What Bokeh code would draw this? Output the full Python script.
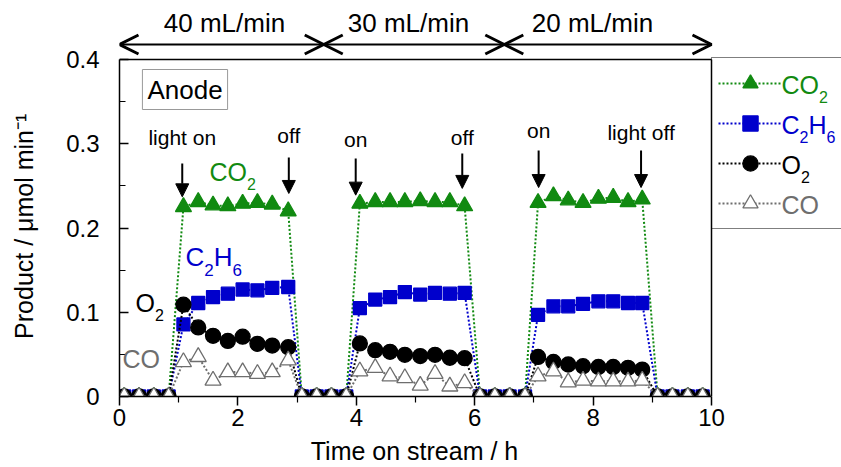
from bokeh.plotting import figure
from bokeh.models import (Range1d, FixedTicker, PrintfTickFormatter, Legend, LegendItem,
                          Label, Arrow, OpenHead, NormalHead, ColumnDataSource)
from bokeh.embed import file_html
from bokeh.resources import INLINE

# ---------------- data ----------------
time_h = [0.08, 0.33, 0.58, 0.83,
          1.08, 1.33, 1.58, 1.83, 2.08, 2.33, 2.58, 2.85,
          3.08, 3.33, 3.58, 3.83,
          4.06, 4.32, 4.57, 4.82, 5.08, 5.33, 5.58, 5.83,
          6.09, 6.34, 6.59, 6.85,
          7.07, 7.33, 7.58, 7.83, 8.09, 8.34, 8.59, 8.83,
          9.09, 9.34, 9.60, 9.85]
co2 = [0, 0, 0, 0,
       0.225, 0.231, 0.227, 0.226, 0.229, 0.230, 0.228, 0.220,
       0, 0, 0, 0,
       0.229, 0.231, 0.231, 0.231, 0.232, 0.231, 0.231, 0.226,
       0, 0, 0, 0,
       0.230, 0.238, 0.233, 0.230, 0.235, 0.236, 0.231, 0.234,
       0, 0, 0, 0]
c2h6 = [0, 0, 0, 0,
        0.0855, 0.111, 0.118, 0.122, 0.127, 0.126, 0.129, 0.130,
        0, 0, 0, 0,
        0.105, 0.115, 0.118, 0.124, 0.121, 0.123, 0.122, 0.123,
        0, 0, 0, 0,
        0.097, 0.107, 0.107, 0.110, 0.113, 0.113, 0.111, 0.111,
        0, 0, 0, 0]
o2 = [0, 0, 0, 0,
      0.109, 0.082, 0.072, 0.066, 0.071, 0.0625, 0.0605, 0.0585,
      0, 0, 0, 0,
      0.063, 0.055, 0.053, 0.0495, 0.048, 0.0495, 0.046, 0.0455,
      0, 0, 0, 0,
      0.047, 0.041, 0.038, 0.036, 0.035, 0.035, 0.034, 0.032,
      0, 0, 0, 0]
co = [0, 0, 0, 0,
      0.041, 0.047, 0.019, 0.029, 0.029, 0.027, 0.029, 0.043,
      0, 0, 0, 0,
      0.030, 0.034, 0.024, 0.022, 0.013, 0.027, 0.012, 0.016,
      0, 0, 0, 0,
      0.024, 0.030, 0.017, 0.019, 0.018, 0.018, 0.018, 0.019,
      0, 0, 0, 0]

x_ticks = [0, 2, 4, 6, 8, 10]
x_minor = [1, 3, 5, 7, 9]
y_ticks = [0, 0.1, 0.2, 0.3, 0.4]
y_minor = [0.05, 0.15, 0.25, 0.35]

x_title = "Time on stream / h"
y_title = "Product / \u03bcmol min\u207b\u00b9"

flow_labels = ["40 mL/min", "30 mL/min", "20 mL/min"]
flow_bounds = [0.0, 3.45, 6.5, 10.0]

light_text = ["light on", "off", "on", "off", "on", "light off"]
light_x = [1.06, 2.86, 3.99, 5.79, 7.08, 8.81]
light_top = [0.2766, 0.2837, 0.2825, 0.2884, 0.292, 0.292]
light_tip = [0.237, 0.241, 0.239, 0.247, 0.248, 0.248]

series_names = [[("CO", False), ("2", True)],
                [("C", False), ("2", True), ("H", False), ("6", True)],
                [("O", False), ("2", True)],
                [("CO", False)]]
series_colors = ["#118a11", "#0000cc", "#000000", "#6e6e6e"]

# ---------------- layout constants (pixels) ----------------
WIDTH, HEIGHT = 841, 467
L, B = 119, 71                 # left / bottom panels
AX_R, AX_T = 711, 59           # pixel position of x=10 and y=0.4
X0, X1, Y0, Y1 = 0, 10, 0, 0.4
FW, FH = WIDTH - L, HEIGHT - B           # data frame (incl. legend / top strip)
XPX = (AX_R - L) / (X1 - X0)
YPX = (FH - AX_T) / (Y1 - Y0)
FONT = "Liberation Sans"
NBSP_W = 0.278 * 25            # width of a no-break space at the title size


def px_x(px):
    return X0 + (px - L) / XPX


def px_y(py):
    return Y0 + (FH - py) / YPX


p = figure(width=WIDTH, height=HEIGHT, output_backend="svg", toolbar_location=None,
           x_range=Range1d(X0, px_x(WIDTH)), y_range=Range1d(Y0, px_y(0)),
           min_border_left=L, min_border_right=0, min_border_top=0, min_border_bottom=B)
p.grid.visible = False
p.outline_line_color = None
p.background_fill_color = "white"
p.border_fill_color = "white"

# axes (lines limited to the plotting box; titles centred on it with padding)
p.xaxis.ticker = FixedTicker(ticks=x_ticks, minor_ticks=x_minor)
p.yaxis.ticker = FixedTicker(ticks=y_ticks, minor_ticks=y_minor)
p.xaxis.bounds = (X0, X1)
p.yaxis.bounds = (Y0, Y1)
p.yaxis.formatter = PrintfTickFormatter(format="%g")
pad_x = round((FW - (AX_R - L)) / NBSP_W)
pad_y = round((FH - (FH - AX_T)) / NBSP_W)
p.xaxis.axis_label = x_title + "\u00a0" * pad_x
p.yaxis.axis_label = y_title + "\u00a0" * pad_y
for ax in (p.xaxis, p.yaxis):
    ax.axis_line_width = 1.5
    ax.major_tick_line_width = 1.5
    ax.minor_tick_line_width = 1.2
    ax.major_label_text_font = FONT
    ax.major_label_text_font_size = "24px"
    ax.major_label_text_color = "black"
    ax.axis_label_text_font = FONT
    ax.axis_label_text_font_size = "25px"
    ax.axis_label_text_font_style = "normal"
    ax.axis_label_text_color = "black"
p.xaxis.major_tick_in = 0
p.xaxis.major_tick_out = 9
p.xaxis.minor_tick_in = 0
p.xaxis.minor_tick_out = 6
p.xaxis.major_label_standoff = 3
p.xaxis.axis_label_standoff = 8
p.yaxis.major_tick_in = 9
p.yaxis.major_tick_out = 0
p.yaxis.minor_tick_in = 6
p.yaxis.minor_tick_out = 0
p.yaxis.major_label_standoff = 20
p.yaxis.axis_label_standoff = 25

# series
src = ColumnDataSource(dict(t=time_h, co2=co2, c2h6=c2h6, o2=o2, co=co))
items = []
specs = [("co2", "triangle", 16, series_colors[0], series_colors[0]),
         ("c2h6", "square", 13, series_colors[1], series_colors[1]),
         ("o2", "circle", 15, series_colors[2], series_colors[2]),
         ("co", "triangle", 16, "white", series_colors[3])]
for (col, marker, size, fill, edge), lc in zip(specs, series_colors):
    ln = p.line("t", col, source=src, line_color=lc, line_width=2, line_dash="2 2")
    sc = p.scatter("t", col, source=src, marker=marker, size=size,
                   fill_color=fill, line_color=edge, line_width=1.3)
    items.append(LegendItem(label="label", renderers=[ln, sc]))

# top and right edges of the plotting box
p.segment(x0=[X0, X1], y0=[Y1, Y0], x1=[X1, X1], y1=[Y1, Y1],
          line_color="black", line_width=1.5)

# legend (box + samples, transparent); coloured labels are drawn separately
PAD, GH, SP, GW = 6, 38, 2, 64
leg_h = 2 * PAD + 4 * GH + 3 * SP
legend = Legend(items=items, location=(AX_R - L, FH - AX_T - leg_h), margin=0,
                padding=PAD, spacing=SP, glyph_height=GH, glyph_width=GW, label_standoff=3,
                label_width=140, label_text_font=FONT, label_text_font_size="25px",
                label_text_alpha=0, border_line_color="black", border_line_width=1.5,
                background_fill_alpha=0)
p.add_layout(legend)

EM = {"C": 0.722, "O": 0.778, "H": 0.722, "2": 0.556, "6": 0.556}


def chem(x, y, parts, color, fs=25):
    """Formula with subscripts; (x, y) = text start at cap-height centre."""
    dx = 0.0
    sfs = round(fs * 0.65)
    for txt, sub in parts:
        size = sfs if sub else fs
        p.add_layout(Label(x=x, y=y, x_offset=dx, y_offset=-0.48 * fs if sub else 0,
                           text=txt, text_color=color, text_font=FONT,
                           text_font_size=f"{size}px", text_align="left",
                           text_baseline="middle", level="overlay"))
        dx += sum(EM[c] for c in txt) * size


def cap_mid(baseline_px, fs):
    return baseline_px - 0.36 * fs


# legend labels
for k, (parts, col) in enumerate(zip(series_names, series_colors)):
    cy = AX_T + PAD + GH / 2 + k * (GH + SP)
    chem(px_x(AX_R + PAD + GW), px_y(cy), parts, col)

# in-plot series labels (text start and baseline in px)
chem(px_x(209), px_y(cap_mid(180, 25)), series_names[0], series_colors[0])
chem(px_x(185), px_y(cap_mid(266, 26)), series_names[1], series_colors[1], fs=26)
chem(px_x(135), px_y(cap_mid(311, 25)), series_names[2], series_colors[2])
chem(px_x(122), px_y(cap_mid(367, 25)), series_names[3], series_colors[3])

# Anode box
p.add_layout(Label(x=px_x(184.5), y=px_y(89), text="Anode", text_font=FONT,
                   text_font_size="26px", text_align="center", text_baseline="middle",
                   text_color="black",
                   border_line_color="#999999", border_line_width=1,
                   background_fill_color="white", padding=5))

# light on/off arrows and texts
arr_src = ColumnDataSource(dict(x=light_x, y0=light_top, y1=light_tip))
p.add_layout(Arrow(source=arr_src, x_start="x", y_start="y0", x_end="x", y_end="y1",
                   line_width=2, line_color="black",
                   end=NormalHead(size=13, fill_color="black", line_color="black", line_width=1)))
light_base_px = [145, 143, 147, 145, 138, 140]
for txt, x, bpx in zip(light_text, light_x, light_base_px):
    p.add_layout(Label(x=x, y=px_y(cap_mid(bpx, 21)), text=txt, text_font=FONT,
                       text_font_size="21px", text_color="black", text_align="center",
                       text_baseline="middle"))

# flow-rate double arrows above the plotting box
flow_text_px = [224, 408, 592]
for i, txt in enumerate(flow_labels):
    a, b = flow_bounds[i], flow_bounds[i + 1]
    p.add_layout(Arrow(x_start=a, y_start=px_y(44), x_end=b, y_end=px_y(44),
                       line_width=2, line_color="black",
                       start=OpenHead(size=19, line_width=3, line_color="black"),
                       end=OpenHead(size=19, line_width=3, line_color="black")))
    p.add_layout(Label(x=px_x(flow_text_px[i]), y=px_y(cap_mid(32, 26)), text=txt,
                       text_font=FONT, text_font_size="26px", text_align="center",
                       text_color="black", text_baseline="middle"))

open("out.html", "w").write(file_html(p, INLINE))
